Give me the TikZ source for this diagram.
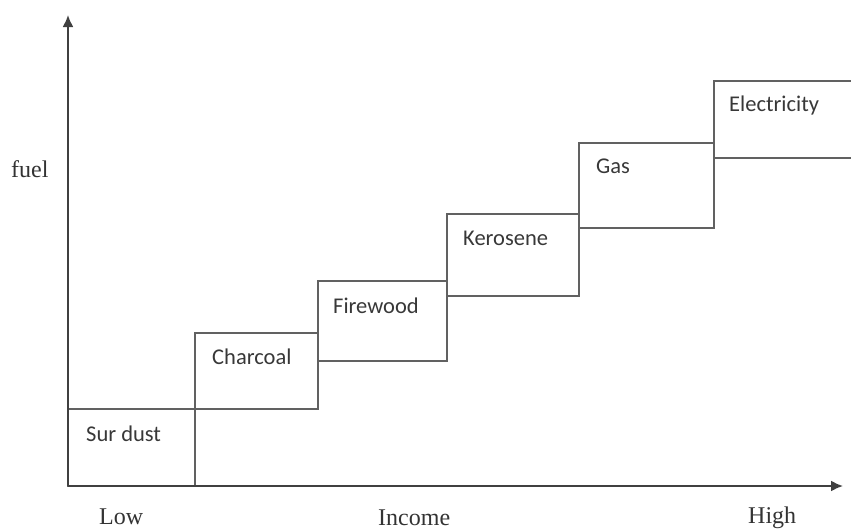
\documentclass[tikz,border=0pt]{standalone}
\usepackage{fontspec}
\setmainfont{Liberation Serif}
\newfontfamily\boxfont{Carlito}
\usetikzlibrary{arrows.meta}
\begin{document}
\begin{tikzpicture}[x=1pt,y=-1pt,
  stair/.style={draw=black!62,line width=1.5pt},
  axisline/.style={draw=black!75,line width=1.9pt,-{Latex[length=12pt,width=11pt]}},
  fuellabel/.style={anchor=base west,inner sep=0pt,font=\boxfont\fontsize{22.5}{26}\selectfont,text=black!78},
  axislabel/.style={anchor=base west,inner sep=0pt,font=\fontsize{24}{28}\selectfont,text=black!80}]
\useasboundingbox (0,0) rectangle (851,531);
% staircase of boxes
\draw[stair] (68,409) rectangle (195,486);
\draw[stair] (195,333) rectangle (318,409);
\draw[stair] (195,409) -- (195,486);
\draw[stair] (318,281) rectangle (447,361);
\draw[stair] (447,214) rectangle (579,296);
\draw[stair] (579,143) rectangle (714,228);
\draw[stair] (851,81) -- (714,81) -- (714,158) -- (851,158);
% axes
\coordinate (o) at (68,486);
\coordinate (ytop) at (68,15);
\coordinate (xend) at (843,486);
\draw[axisline] (o) -- (ytop);
\draw[axisline] (o) -- (xend);
% labels
\node[fuellabel] (sur) at (86,441) {Sur dust};
\node[fuellabel] (char) at (212,364) {Charcoal};
\node[fuellabel] (fire) at (333,313) {Firewood};
\node[fuellabel] (kero) at (463,245) {Kerosene};
\node[fuellabel] (gas) at (596,173) {Gas};
\node[fuellabel] (elec) at (729,111) {Electricity};
\node[axislabel] (fuel) at (11,177) {fuel};
\node[axislabel] (low) at (99,524) {Low};
\node[axislabel] (income) at (378,525) {Income};
\node[axislabel] (high) at (748,523) {High};
\end{tikzpicture}
\end{document}
